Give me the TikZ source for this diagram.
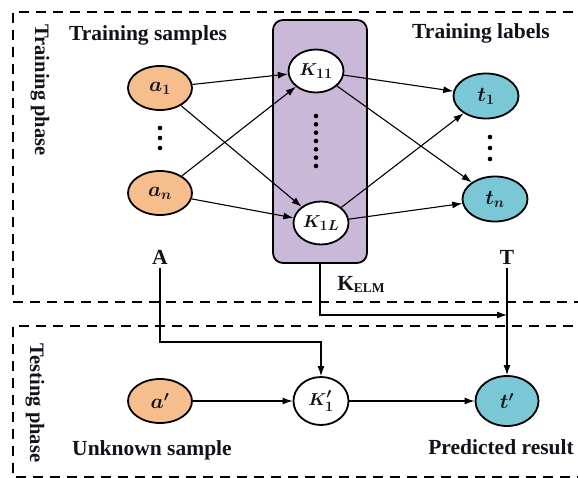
\documentclass[tikz,border=0pt]{standalone}
\usepackage{amsmath}
\usepackage{fontspec}
\setmainfont{Liberation Serif}
\usetikzlibrary{arrows.meta, shapes.geometric}

\definecolor{sampfill}{RGB}{245,190,140}
\definecolor{labfill}{RGB}{122,200,214}
\definecolor{kfill}{RGB}{201,184,215}
\definecolor{txtcol}{RGB}{18,18,28}

\begin{document}
\begin{tikzpicture}[
  x=1pt, y=-1pt,
  font=\fontsize{21.5}{24}\selectfont\bfseries, text=txtcol,
  phase/.style={draw, line width=2.2pt, dash pattern=on 10pt off 7pt},
  samp/.style={ellipse, draw, line width=1.8pt, fill=sampfill, inner sep=0pt,
    minimum width=64pt, minimum height=44pt,
    font=\fontsize{21}{22}\selectfont\boldmath},
  lab/.style={samp, fill=labfill, minimum width=65pt, minimum height=45pt},
  kern/.style={samp, fill=white, minimum width=55pt, minimum height=43pt,
    font=\fontsize{19}{20}\selectfont\boldmath},
  kbox/.style={draw, line width=1.8pt, rounded corners=10pt, fill=kfill,
    minimum width=94pt, minimum height=243pt},
  arrow/.style={-{Latex[length=10pt,width=7pt]}, line width=1.1pt},
]
  \useasboundingbox (0,0) rectangle (578,478);

  % phase frames (open on the right)
  \draw[phase] (590,12) -- (13,12) -- (13,302) -- (590,302);
  \draw[phase] (590,326) -- (13,326) -- (13,477) -- (590,477);
  \node[rotate=-90, font=\fontsize{20.5}{24}\selectfont\bfseries] (trphase) at (40,90) {Training phase};
  \node[rotate=-90, font=\fontsize{20.5}{24}\selectfont\bfseries] (tsphase) at (35,403) {Testing phase};

  % training phase
  \node (trsamp) at (148,35) {Training samples};
  \node (trlab) at (481,33) {Training labels};
  \node[kbox] (elm) at (320,141.5) {};

  \node[samp] (a1) at (160,88) {$a_1$};
  \node[samp] (an) at (160,193) {$a_n$};
  \node[kern] (K11) at (316,71) {$K_{11}$};
  \node[kern] (K1L) at (321,223) {$K_{1L}$};
  \node[lab] (t1) at (486,96) {$t_1$};
  \node[lab] (tn) at (495,199) {$t_n$};

  \foreach \y in {128,138,148} \fill (160,\y) circle (2.3);
  \foreach \y in {137,148,159} \fill (490,\y) circle (2.3);
  \foreach \i in {0,...,6} \fill (316,116+8.33*\i) circle (2.3);

  \foreach \s in {a1,an}{
    \foreach \k in {K11,K1L}{
      \draw[arrow] (\s) -- (\k);
    }
  }
  \foreach \k in {K11,K1L}{
    \foreach \t in {t1,tn}{
      \draw[arrow] (\k) -- (\t);
    }
  }

  \node (A) at (160,257) {A};
  \node (T) at (507,257) {T};
  \node (kname) at (361,284) {K\raisebox{-2pt}{\fontsize{13.5}{13}\selectfont ELM}};

  % testing phase
  \node[samp] (ap) at (160,401) {$a'$};
  \node[kern, minimum height=48pt] (K1p) at (321,401) {$K_1'$};
  \node[lab, minimum width=63pt, minimum height=50pt] (tp) at (507,401) {$t'$};
  \node (unk) at (152,450) {Unknown sample};
  \node (pred) at (501,447) {Predicted result};

  \coordinate (jA) at (160,342);
  \coordinate (jT) at (507,315);
  \draw[arrow] (A) -- (jA) -| (K1p);
  \draw[arrow] (elm) |- (jT);
  \draw[arrow] (T) -- (tp);
  \draw[arrow] (ap) -- (K1p);
  \draw[arrow] (K1p) -- (tp);
\end{tikzpicture}
\end{document}
